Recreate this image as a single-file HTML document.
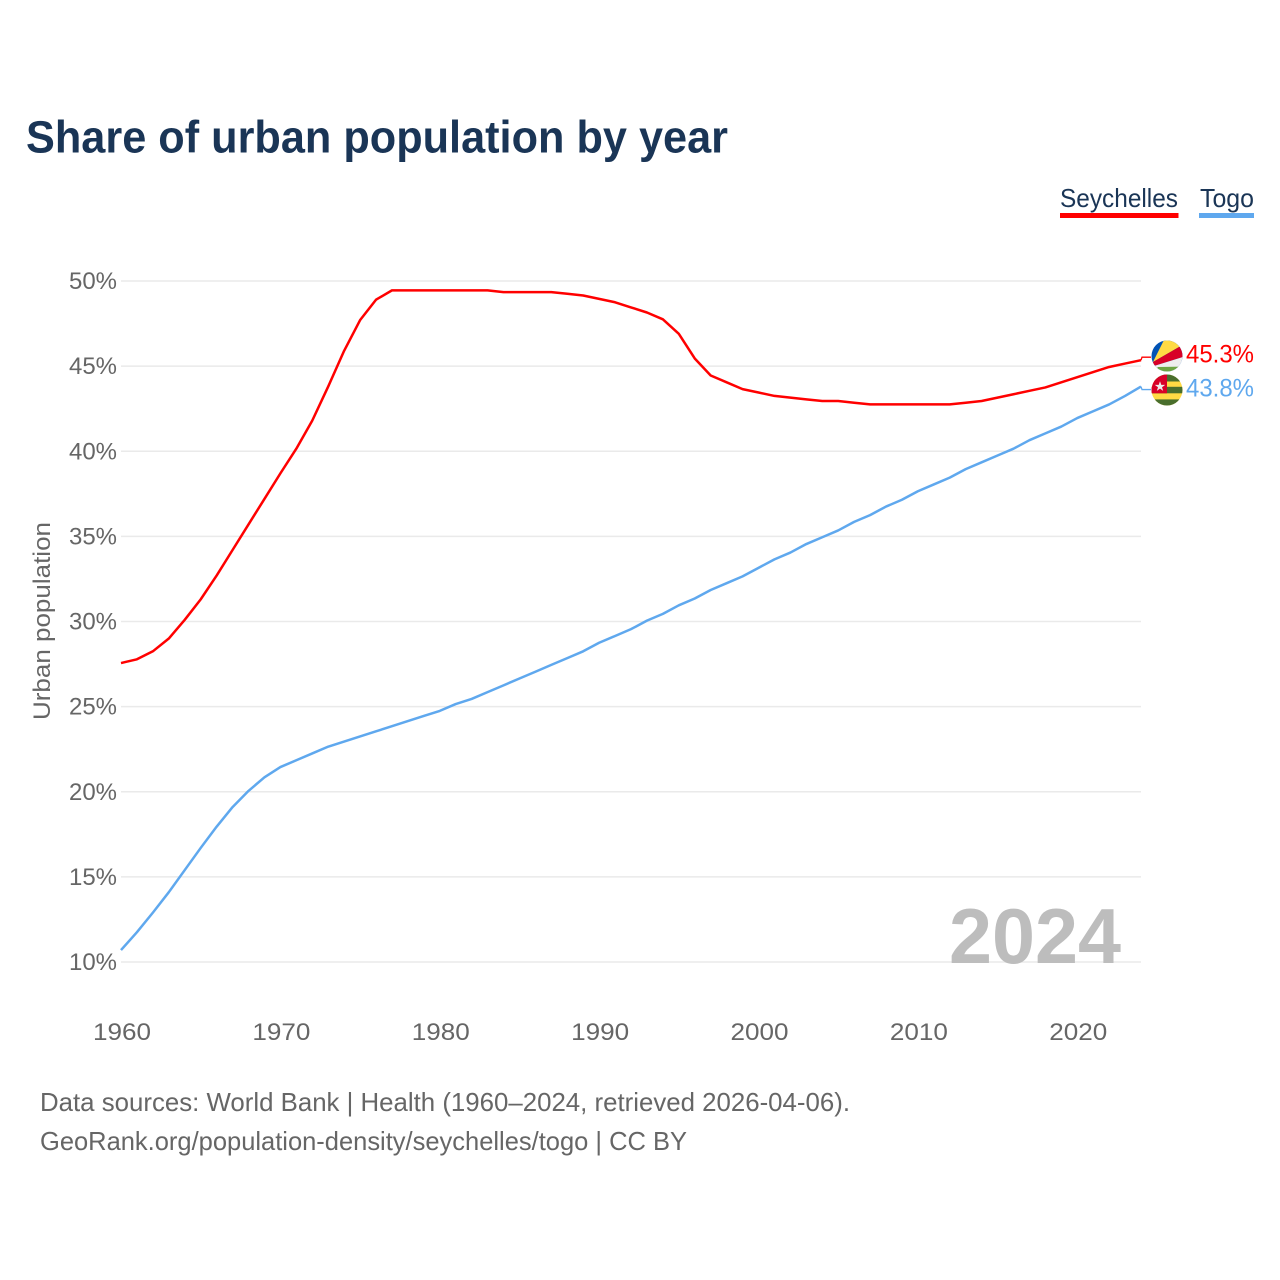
<!DOCTYPE html>
<html lang="en">
<head>
<meta charset="utf-8">
<title>Share of urban population by year</title>
<style>
  html, body { margin: 0; padding: 0; background: #fff; }
  svg { display: block; font-family: "Liberation Sans", sans-serif; }
</style>
</head>
<body>
<svg id="chart" width="1280" height="1280" viewBox="0 0 1280 1280" xmlns="http://www.w3.org/2000/svg">
  <defs>
    <clipPath id="flag-clip-sc"><circle cx="1167" cy="356" r="15.5"/></clipPath>
    <clipPath id="flag-clip-tg"><circle cx="1167" cy="390" r="15.5"/></clipPath>
  </defs>
  <rect width="1280" height="1280" fill="#fff"/>
  <text x="26" y="152.5" font-size="45" font-weight="700" fill="#1a3556" textLength="702" lengthAdjust="spacingAndGlyphs">Share of urban population by year</text>

  <g>
    <text x="1060" y="207" font-size="26" fill="#1a3556" textLength="118" lengthAdjust="spacingAndGlyphs">Seychelles</text>
    <rect x="1060" y="213" width="118.5" height="5" fill="#ff0000"/>
    <text x="1200" y="207" font-size="26" fill="#1a3556" textLength="54" lengthAdjust="spacingAndGlyphs">Togo</text>
    <rect x="1199" y="213" width="55" height="5" fill="#5fa8ee"/>
  </g>

  <g id="grid"></g>
  <g id="y-ticks"></g>
  <g id="x-ticks"></g>
  <text transform="translate(50,621) rotate(-90)" text-anchor="middle" font-size="24" fill="#666" textLength="198" lengthAdjust="spacingAndGlyphs">Urban population</text>
  <text x="949" y="963" font-size="78" font-weight="700" fill="#bdbdbd" textLength="172" lengthAdjust="spacingAndGlyphs">2024</text>

  <g id="series"></g>

  <g clip-path="url(#flag-clip-sc)">
    <rect x="1150" y="339" width="34" height="35" fill="#0052b4"/>
    <polygon points="1153,362 1165,338 1186,338 1186,343" fill="#ffda44"/>
    <polygon points="1153,362 1186,343 1186,356 1154,366" fill="#d80027"/>
    <polygon points="1154,366 1186,356 1186,375 1150,375" fill="#eeeeee"/>
    <polygon points="1158,367 1186,366.5 1186,375 1150,375" fill="#6da544"/>
  </g>
  <g clip-path="url(#flag-clip-tg)">
    <rect x="1150" y="373" width="34" height="35" fill="#ffda44"/>
    <rect x="1150" y="373" width="34" height="8.5" fill="#496e2d"/>
    <rect x="1150" y="386.8" width="34" height="6.5" fill="#496e2d"/>
    <rect x="1150" y="399.4" width="34" height="8" fill="#496e2d"/>
    <rect x="1150" y="373" width="17" height="20.3" fill="#d80027"/>
    <polygon points="1160,381.2 1161.3,384.9 1165.2,384.9 1162,387.2 1163.2,390.9 1160,388.6 1156.8,390.9 1158,387.2 1154.8,384.9 1158.7,384.9" fill="#eeeeee"/>
  </g>

  <g>
    <text x="40" y="1111" font-size="26" fill="#666" textLength="810" lengthAdjust="spacingAndGlyphs">Data sources: World Bank | Health (1960–2024, retrieved 2026-04-06).</text>
    <text x="40" y="1150" font-size="26" fill="#666" textLength="647" lengthAdjust="spacingAndGlyphs">GeoRank.org/population-density/seychelles/togo | CC BY</text>
  </g>
</svg>
<script>
const startYear = 1960;
const seychellesValues = [27.56,27.78,28.25,29.0,30.1,31.3,32.7,34.2,35.7,37.2,38.7,40.15,41.8,43.8,45.9,47.7,48.9,49.45,49.45,49.45,49.45,49.45,49.45,49.45,49.35,49.35,49.35,49.35,49.25,49.15,48.95,48.75,48.45,48.15,47.75,46.9,45.45,44.45,44.05,43.65,43.45,43.25,43.15,43.05,42.95,42.95,42.85,42.75,42.75,42.75,42.75,42.75,42.75,42.85,42.95,43.15,43.35,43.55,43.75,44.05,44.35,44.65,44.95,45.15,45.35];
const togoValues = [10.7,11.75,12.9,14.1,15.4,16.7,17.95,19.1,20.05,20.85,21.45,21.85,22.25,22.65,22.95,23.25,23.55,23.85,24.15,24.45,24.75,25.15,25.45,25.85,26.25,26.65,27.05,27.45,27.85,28.25,28.75,29.15,29.55,30.05,30.45,30.95,31.35,31.85,32.25,32.65,33.15,33.65,34.05,34.55,34.95,35.35,35.85,36.25,36.75,37.15,37.65,38.05,38.45,38.95,39.35,39.75,40.15,40.65,41.05,41.45,41.95,42.35,42.75,43.25,43.8];
const yTickValues = [10,15,20,25,30,35,40,45,50];
const xTickValues = [1960,1970,1980,1990,2000,2010,2020];
const endLabels = ["45.3%","43.8%"];

const NS = "http://www.w3.org/2000/svg";
const xScale = function (year) { return 121 + (year - 1960) * (1141 - 121) / 64; };
const yScale = function (v) { return 962 - (v - 10) * (962 - 281) / 40; };

const grid = document.getElementById("grid");
const yTicks = document.getElementById("y-ticks");
const xTicks = document.getElementById("x-ticks");
const series = document.getElementById("series");

yTickValues.forEach(function (v) {
  const line = document.createElementNS(NS, "line");
  
  
  line.setAttribute("x1", 121);
  line.setAttribute("x2", 1141);
  line.setAttribute("y1", yScale(v));
  line.setAttribute("y2", yScale(v));
  line.setAttribute("stroke", "#eaeaea");
  line.setAttribute("stroke-width", "1.5");
  grid.appendChild(line);

  const label = document.createElementNS(NS, "text");
  
  
  label.setAttribute("x", 69);
  label.setAttribute("y", yScale(v) + 8);
  label.setAttribute("font-size", "24");
  label.setAttribute("fill", "#666");
  label.setAttribute("textLength", "48");
  label.setAttribute("lengthAdjust", "spacingAndGlyphs");
  label.textContent = v + "%";
  yTicks.appendChild(label);
});

xTickValues.forEach(function (year) {
  const label = document.createElementNS(NS, "text");
  
  
  label.setAttribute("x", xScale(year) - 28);
  label.setAttribute("y", 1040);
  label.setAttribute("font-size", "24");
  label.setAttribute("fill", "#666");
  label.setAttribute("textLength", "58");
  label.setAttribute("lengthAdjust", "spacingAndGlyphs");
  label.textContent = year;
  xTicks.appendChild(label);
});

function linePath(values) {
  return values.map(function (v, i) {
    return (i ? "L" : "M") + xScale(startYear + i).toFixed(2) + " " + yScale(v).toFixed(2);
  }).join(" ");
}

const seychellesLine = document.createElementNS(NS, "path");


seychellesLine.setAttribute("d", linePath(seychellesValues));
seychellesLine.setAttribute("fill", "none");
seychellesLine.setAttribute("stroke", "#ff0000");
seychellesLine.setAttribute("stroke-width", "2.5");
seychellesLine.setAttribute("stroke-linejoin", "round");
series.appendChild(seychellesLine);

const togoLine = document.createElementNS(NS, "path");


togoLine.setAttribute("d", linePath(togoValues));
togoLine.setAttribute("fill", "none");
togoLine.setAttribute("stroke", "#5fa8ee");
togoLine.setAttribute("stroke-width", "2.5");
togoLine.setAttribute("stroke-linejoin", "round");
series.appendChild(togoLine);

const seychellesEndX = xScale(startYear + seychellesValues.length - 1);
const seychellesEndY = yScale(seychellesValues[seychellesValues.length - 1]);
const togoEndX = xScale(startYear + togoValues.length - 1);
const togoEndY = yScale(togoValues[togoValues.length - 1]);

const seychellesConnector = document.createElementNS(NS, "polyline");


seychellesConnector.setAttribute("points", seychellesEndX + "," + seychellesEndY + " 1142," + (seychellesEndY - 3) + " 1151," + (seychellesEndY - 3));
seychellesConnector.setAttribute("fill", "none");
seychellesConnector.setAttribute("stroke", "#ff0000");
seychellesConnector.setAttribute("stroke-width", "1.3");
series.appendChild(seychellesConnector);

const togoConnector = document.createElementNS(NS, "polyline");


togoConnector.setAttribute("points", togoEndX + "," + togoEndY + " 1142," + (togoEndY + 3) + " 1151," + (togoEndY + 3));
togoConnector.setAttribute("fill", "none");
togoConnector.setAttribute("stroke", "#5fa8ee");
togoConnector.setAttribute("stroke-width", "1.3");
series.appendChild(togoConnector);

const seychellesValueLabel = document.createElementNS(NS, "text");


seychellesValueLabel.setAttribute("x", 1186);
seychellesValueLabel.setAttribute("y", 362.5);
seychellesValueLabel.setAttribute("font-size", "25");
seychellesValueLabel.setAttribute("fill", "#ff0000");
seychellesValueLabel.setAttribute("textLength", "68");
seychellesValueLabel.setAttribute("lengthAdjust", "spacingAndGlyphs");
seychellesValueLabel.textContent = endLabels[0];
series.appendChild(seychellesValueLabel);

const togoValueLabel = document.createElementNS(NS, "text");


togoValueLabel.setAttribute("x", 1186);
togoValueLabel.setAttribute("y", 396.5);
togoValueLabel.setAttribute("font-size", "25");
togoValueLabel.setAttribute("fill", "#5fa8ee");
togoValueLabel.setAttribute("textLength", "68");
togoValueLabel.setAttribute("lengthAdjust", "spacingAndGlyphs");
togoValueLabel.textContent = endLabels[1];
series.appendChild(togoValueLabel);
</script>
</body>
</html>
